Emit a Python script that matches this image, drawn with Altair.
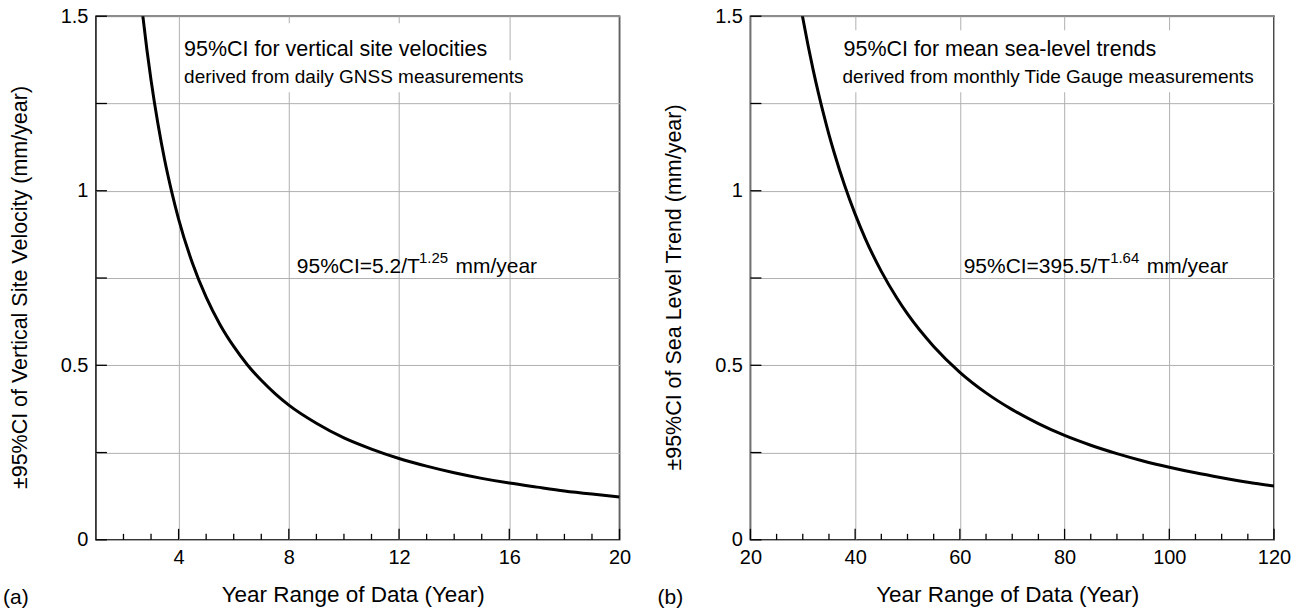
import altair as alt
import pandas as pd

FONT = "Liberation Sans"

# ---------------- data ----------------
# panel (a): GNSS vertical velocity CI vs. year range
years_a = [2.7, 2.85, 3, 3.25, 3.5, 3.75, 4, 4.5, 5, 5.5, 6, 6.5, 7, 7.5, 8, 9, 10,
           11, 12, 13, 14, 15, 16, 17, 18, 19, 20]
ci_a = [1.502, 1.404, 1.317, 1.192, 1.086, 0.997, 0.919, 0.793, 0.695, 0.617, 0.554,
        0.501, 0.457, 0.419, 0.386, 0.334, 0.292, 0.260, 0.233, 0.211, 0.192, 0.176,
        0.1625, 0.151, 0.140, 0.131, 0.123]

# panel (b): tide gauge sea-level trend CI vs. year range
years_b = [29.9, 31, 32, 33, 34, 35, 36, 38, 40, 42, 45, 48, 50, 55, 60, 65, 70, 75,
           80, 85, 90, 95, 100, 105, 110, 115, 120]
ci_b = [1.503, 1.417, 1.345, 1.279, 1.218, 1.161, 1.109, 1.015, 0.933, 0.861, 0.769,
        0.692, 0.647, 0.554, 0.480, 0.421, 0.373, 0.333, 0.299, 0.271, 0.247, 0.226,
        0.208, 0.192, 0.178, 0.165, 0.154]

xdomain_a = [1, 20]
xmajor_a = [4, 8, 12, 16, 20]
xminor_a = [2, 3, 5, 6, 7, 9, 10, 11, 13, 14, 15, 17, 18, 19]

xdomain_b = [20, 120]
xmajor_b = [20, 40, 60, 80, 100, 120]
xminor_b = [25, 30, 35, 45, 50, 55, 65, 70, 75, 85, 90, 95, 105, 110, 115]

ydomain = [0, 1.5]
yticks = [0, 0.25, 0.5, 0.75, 1.0, 1.25, 1.5]

xtitle = "Year Range of Data (Year)"
ytitle_a = "±95%CI of Vertical Site Velocity (mm/year)"
ytitle_b = "±95%CI of Sea Level Trend (mm/year)"

# annotation texts (position in data units, font size)
ann_text_a = ["95%CI for vertical site velocities", "derived from daily GNSS measurements",
              "95%CI=5.2/T", "1.25", "mm/year"]
ann_x_a = [4.2, 4.2, 8.29, 12.72, 14.05]
ann_y_a = [1.385, 1.308, 0.764, 0.792, 0.764]
ann_size_a = [21.5, 19, 21, 15, 21]

ann_text_b = ["95%CI for mean sea-level trends", "derived from monthly Tide Gauge measurements",
              "95%CI=395.5/T", "1.64", "mm/year"]
ann_x_b = [37.8, 37.6, 60.73, 88.7, 95.7]
ann_y_b = [1.385, 1.308, 0.764, 0.792, 0.764]
ann_size_b = [21.5, 19, 21, 15, 21]

# white backgrounds behind the top annotation lines (data units)
box_x0_a = [4.12, 4.12]
box_x1_a = [15.87, 16.66]
box_y0_a = [1.374, 1.282]
box_y1_a = [1.48, 1.374]

box_x0_b = [37.2]
box_x1_b = [117.6]
box_y0_b = [1.282]
box_y1_b = [1.46]


def panel(years, ci, xdom, xmajor, xminor, ytitle, atext, ax, ay, asize,
          bx0, bx1, by0, by1, tag):
    xs = alt.Scale(domain=xdom, nice=False, zero=False)
    ys = alt.Scale(domain=ydomain, nice=False)
    xaxis = alt.Axis(values=xmajor, grid=True, ticks=False, domain=False,
                     labelPadding=8, titlePadding=16, labelFlush=False, titleX=257,
                     titleFontSize=22.5)
    yaxis = alt.Axis(values=yticks, grid=True, ticks=False, domain=False,
                     format="~g",
                     labelExpr="(datum.value*2) % 1 == 0 ? datum.label : ''",
                     labelPadding=8, titlePadding=29, titleFontSize=21.5, titleY=271)

    def X(f):
        return alt.X(f, scale=xs, axis=xaxis, title=xtitle)

    def Y(f):
        return alt.Y(f, scale=ys, axis=yaxis, title=ytitle)

    curve = pd.DataFrame({"T": years, "CI": ci})
    line = alt.Chart(curve).mark_line(
        color="black", strokeWidth=3, clip=True, interpolate="monotone"
    ).encode(x=X("T:Q"), y=Y("CI:Q"))

    boxes = alt.Chart(pd.DataFrame({"x0": bx0, "x1": bx1, "y0": by0, "y1": by1})).mark_rect(
        color="white"
    ).encode(x=X("x0:Q"), x2="x1:Q", y=Y("y0:Q"), y2="y1:Q")

    texts = alt.Chart(pd.DataFrame({"x": ax, "y": ay, "t": atext, "s": asize})).mark_text(
        align="left", baseline="alphabetic", font=FONT, color="black"
    ).encode(
        x=X("x:Q"), y=Y("y:Q"), text="t:N",
        size=alt.Size("s:Q", scale=None, legend=None),
    )

    major_ticks = alt.Chart(pd.DataFrame({"v": xmajor})).mark_rule(
        color="black", strokeWidth=1.3
    ).encode(x=X("v:Q"), y=alt.value(524), y2=alt.value(513))

    minor_ticks = alt.Chart(pd.DataFrame({"v": xminor})).mark_rule(
        color="black", strokeWidth=1.3
    ).encode(x=X("v:Q"), y=alt.value(524), y2=alt.value(518))

    y_ticks = alt.Chart(pd.DataFrame({"v": yticks})).mark_rule(
        color="black", strokeWidth=1.3
    ).encode(y=Y("v:Q"), x=alt.value(0), x2=alt.value(11))

    tag_mark = alt.Chart(pd.DataFrame({"t": [tag]})).mark_text(
        align="left", baseline="alphabetic", font=FONT, fontSize=21, color="black"
    ).encode(text="t:N", x=alt.value(-93), y=alt.value(588))

    return alt.layer(line, boxes, texts, major_ticks, minor_ticks, y_ticks, tag_mark).properties(
        width=524, height=524
    )


left = panel(years_a, ci_a, xdomain_a, xmajor_a, xminor_a, ytitle_a,
             ann_text_a, ann_x_a, ann_y_a, ann_size_a,
             box_x0_a, box_x1_a, box_y0_a, box_y1_a, "(a)")
right = panel(years_b, ci_b, xdomain_b, xmajor_b, xminor_b, ytitle_b,
              ann_text_b, ann_x_b, ann_y_b, ann_size_b,
              box_x0_b, box_x1_b, box_y0_b, box_y1_b, "(b)")

chart = alt.hconcat(left, right, spacing=25).properties(
    padding={"left": 2, "top": 5, "right": 5, "bottom": 5},
    background="white",
).configure_view(
    stroke="#1a1a1a", strokeWidth=1.6
).configure_axis(
    labelFont=FONT, titleFont=FONT, labelFontSize=20,
    labelColor="black", titleColor="black", titleFontWeight="normal",
    gridColor="#b0b0b0", gridWidth=1,
)

chart.save("out.html", embed_options={"renderer": "svg", "actions": False})
